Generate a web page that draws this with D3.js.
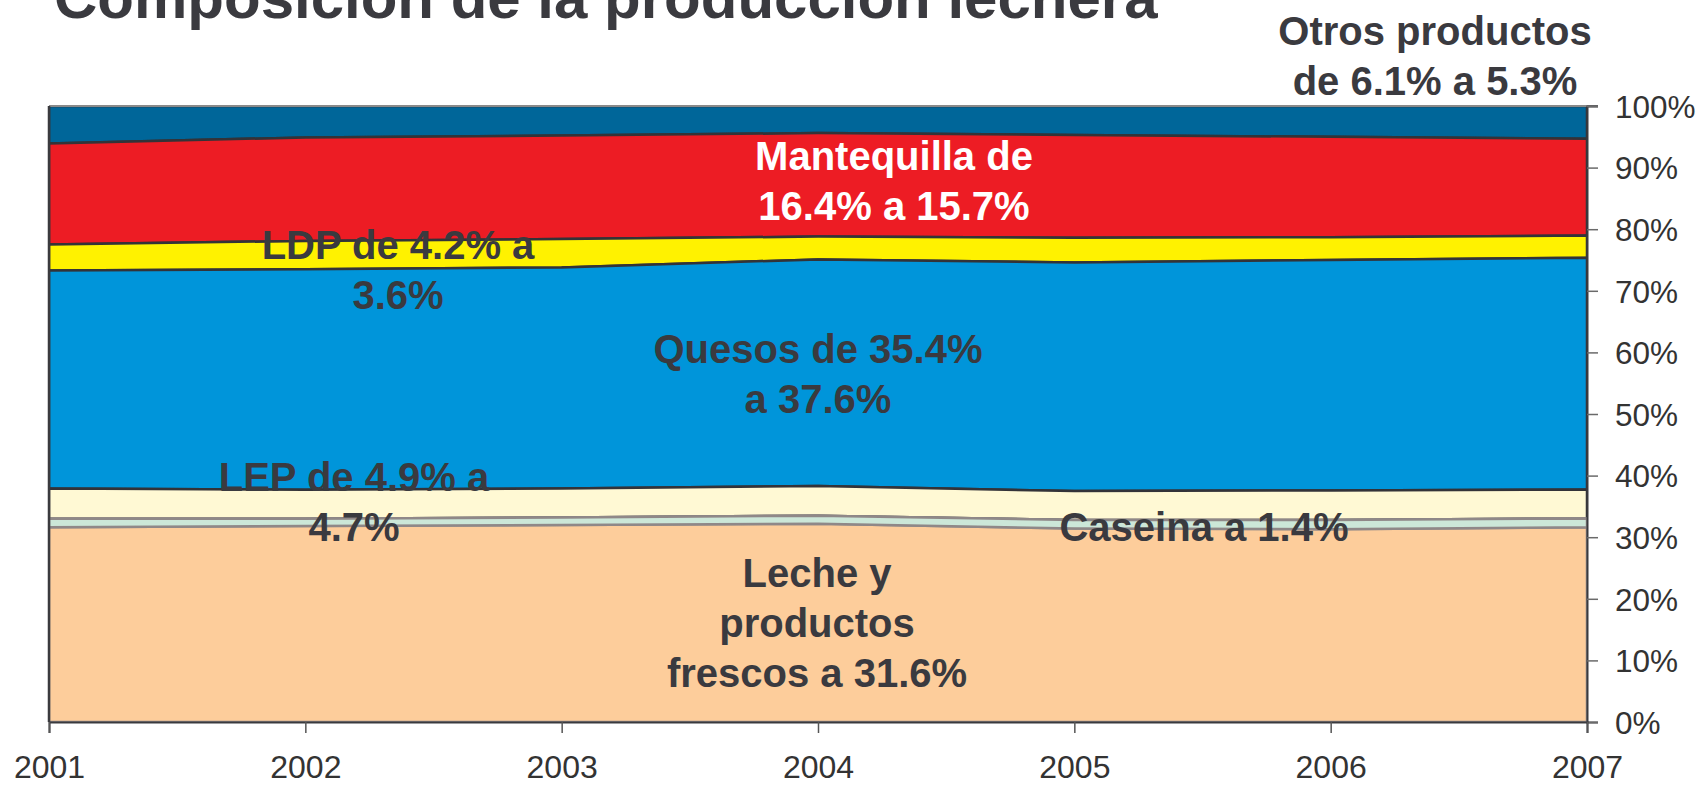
<!DOCTYPE html>
<html><head><meta charset="utf-8">
<script src="https://cdn.jsdelivr.net/npm/d3@7"></script>
<style>
html,body{margin:0;padding:0;background:#fff;}
svg{display:block;font-family:"Liberation Sans",Arial,sans-serif;}
</style></head>
<body>
<svg id="chart" width="1702" height="785"></svg>
<script>
// ---- data ----
const years = [2001, 2002, 2003, 2004, 2005, 2006, 2007];
const seriesKeys = ["Leche", "Caseina", "LEP", "Quesos", "LDP", "Mantequilla", "Otros"];
const leche       = [31.6, 31.8, 32.0, 32.2, 31.4, 31.3, 31.6];
const caseina     = [1.4, 1.2, 1.2, 1.3, 1.4, 1.5, 1.4];
const lep         = [4.9, 4.7, 4.7, 4.8, 4.7, 4.8, 4.7];
const quesos      = [35.4, 35.8, 35.9, 36.8, 37.1, 37.4, 37.6];
const ldp         = [4.2, 4.6, 4.6, 3.7, 4.0, 3.7, 3.6];
const mantequilla = [16.4, 16.8, 16.8, 16.8, 16.7, 16.3, 15.7];
const otros       = [6.1, 5.1, 4.8, 4.4, 4.7, 5.0, 5.3];
const yTicks = [0, 0.1, 0.2, 0.3, 0.4, 0.5, 0.6, 0.7, 0.8, 0.9, 1.0];
const title = "Composición de la producción lechera";

const valuesByKey = {Leche: leche, Caseina: caseina, LEP: lep, Quesos: quesos, LDP: ldp, Mantequilla: mantequilla, Otros: otros};
const fills = {Leche:"#FDCD9B", Caseina:"#CCE7D8", LEP:"#FFF9D4", Quesos:"#0095DA", LDP:"#FFF200", Mantequilla:"#ED1C24", Otros:"#006699"};
const strokes = {Leche:"#8f8888", Caseina:"#8f8888", LEP:"#333338", Quesos:"#333338", LDP:"#333338", Mantequilla:"#333338", Otros:"#333338"};
const strokeW = {Leche:2.5, Caseina:2.5, LEP:2.5, Quesos:2.5, LDP:2.5, Mantequilla:2.5, Otros:2.5};

const table = years.map((y, i) => {
  const row = {year: y};
  seriesKeys.forEach(k => row[k] = valuesByKey[k][i]);
  return row;
});

const svg = d3.select("#chart");
const L = 49, R = 1587, T = 106, B = 722;
const x = d3.scaleLinear().domain([2001, 2007]).range([L, R]);
const y = d3.scaleLinear().domain([0, 1]).range([B, T]);

const stacked = d3.stack().keys(seriesKeys).offset(d3.stackOffsetExpand)(table);
const area = d3.area().x(d => x(d.data.year)).y0(d => y(d[0])).y1(d => y(d[1])).curve(d3.curveLinear);

const plot = svg.append("g");
plot.append("defs").append("clipPath").attr("id","clip")
  .append("rect").attr("x", L).attr("y", T).attr("width", R - L).attr("height", B - T);
const areas = plot.append("g").attr("clip-path","url(#clip)");
// draw top layer first so lower outlines sit on top
stacked.slice().reverse().forEach(s => {
  areas.append("path").datum(s).attr("d", area)
    .attr("fill", fills[s.key]).attr("stroke", strokes[s.key])
    .attr("stroke-width", strokeW[s.key]).attr("stroke-linejoin","round");
});
// redraw the Caseina so its grey outline is on top
areas.append("path").datum(stacked[1]).attr("d", area)
  .attr("fill", fills.Caseina).attr("stroke", strokes.Caseina).attr("stroke-width", 2.5);

// plot frame
svg.append("line").attr("x1", L).attr("x2", R + 11).attr("y1", T).attr("y2", T)
  .attr("stroke", "#8a8a8a").attr("stroke-width", 2);
svg.append("line").attr("x1", L).attr("x2", L).attr("y1", T).attr("y2", B)
  .attr("stroke", "#3a3a3e").attr("stroke-width", 2.5);

// right axis
const yAxis = d3.axisRight(y).tickValues(yTicks).tickSize(11).tickPadding(17)
  .tickFormat(d => Math.round(d * 100) + "%");
const gy = svg.append("g").attr("transform", `translate(${R},0)`).call(yAxis);
gy.select(".domain").attr("stroke", "#3a3a3e").attr("stroke-width", 2);
gy.selectAll(".tick line").attr("stroke", "#6a6a6a").attr("stroke-width", 1.5);
gy.selectAll(".tick text").attr("fill", "#333333").style("font-size", "31.5px")
  .style("font-family", '"Liberation Sans",Arial,sans-serif').attr("dy", "0.36em");

// bottom axis
const xAxis = d3.axisBottom(x).tickValues(years).tickSize(11).tickPadding(22).tickFormat(d3.format("d"));
const gx = svg.append("g").attr("transform", `translate(0,${B})`).call(xAxis);
gx.select(".domain").attr("stroke", "#3a3a3e").attr("stroke-width", 2);
gx.selectAll(".tick line").attr("stroke", "#555").attr("stroke-width", 1.5);
gx.selectAll(".tick text").attr("fill", "#333333").style("font-size", "32px")
  .style("font-family", '"Liberation Sans",Arial,sans-serif');

// title
svg.append("text").attr("x", 54).attr("y", 18).text(title)
  .attr("fill", "#3a3a3f").style("font-size", "60px").style("font-weight", "bold");

// labels
const labels = [
  {lines:["Otros productos","de 6.1% a 5.3%"], x:1435, y:45, color:"#3a3a3f"},
  {lines:["Mantequilla de","16.4% a 15.7%"], x:894, y:170, color:"#ffffff"},
  {lines:["LDP de 4.2% a","3.6%"], x:398, y:259, color:"#3a3a3f"},
  {lines:["Quesos de 35.4%","a 37.6%"], x:818, y:363, color:"#3a3a3f"},
  {lines:["LEP de 4.9% a","4.7%"], x:354, y:491, color:"#3a3a3f"},
  {lines:["Caseina a 1.4%"], x:1204, y:541, color:"#3a3a3f"},
  {lines:["Leche y","productos","frescos a 31.6%"], x:817, y:587, color:"#3a3a3f"}
];
labels.forEach(l => {
  const t = svg.append("text").attr("text-anchor","middle").attr("fill", l.color)
    .style("font-size","40px").style("font-weight","bold");
  l.lines.forEach((s, i) => t.append("tspan").attr("x", l.x).attr("y", l.y + i * 50).text(s));
});
</script>
</body></html>
